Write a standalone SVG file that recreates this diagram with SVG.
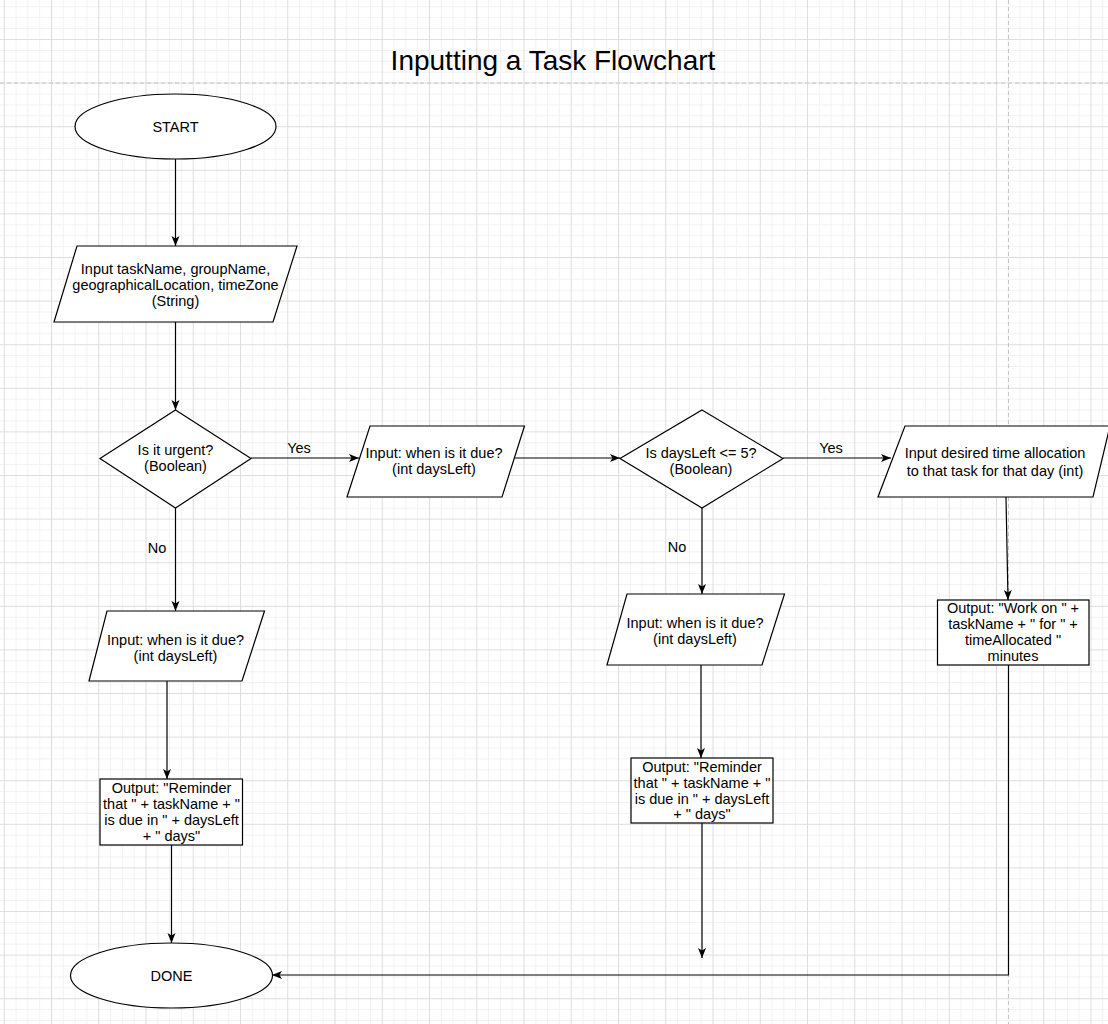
<svg xmlns="http://www.w3.org/2000/svg" width="1108" height="1024" viewBox="0 0 1108 1024">
<defs>
<pattern id="grid" patternUnits="userSpaceOnUse" x="3.75" y="-4.6" width="47.25" height="43.6">
<rect x="0" y="0" width="47.25" height="43.6" fill="#ffffff"/>
<rect x="11.8" y="0" width="0.8" height="43.6" fill="#f0f0f0"/>
<rect x="23.6" y="0" width="0.8" height="43.6" fill="#f0f0f0"/>
<rect x="35.4" y="0" width="0.8" height="43.6" fill="#f0f0f0"/>
<rect x="0" y="10.9" width="47.25" height="0.8" fill="#f0f0f0"/>
<rect x="0" y="21.8" width="47.25" height="0.8" fill="#f0f0f0"/>
<rect x="0" y="32.7" width="47.25" height="0.8" fill="#f0f0f0"/>
<rect x="0" y="0" width="1" height="43.6" fill="#dedede"/>
<rect x="0" y="0" width="47.25" height="1" fill="#dedede"/>
</pattern>
<marker id="arr" markerUnits="userSpaceOnUse" markerWidth="12" markerHeight="10" refX="10" refY="4" orient="auto" overflow="visible">
<path d="M0,0 L10,4 L0,8 L2.5,4 Z" fill="#000"/>
</marker>
<style>
.shape{fill:#fff;stroke:#000;stroke-width:1.2}
.t{font-family:"Liberation Sans",Arial,sans-serif;font-size:14.5px;fill:#000;text-anchor:middle}
.title{font-family:"Liberation Sans",Arial,sans-serif;font-size:28px;fill:#000;text-anchor:middle}
.c{fill:none;stroke:#000;stroke-width:1.2}
.page{stroke:#c4c4c4;stroke-width:1;stroke-dasharray:4 3;fill:none}
</style>
</defs>
<rect width="1108" height="1024" fill="url(#grid)"/>
<line class="page" x1="0" y1="83" x2="1108" y2="83"/>
<line class="page" x1="1008.5" y1="0" x2="1008.5" y2="1024"/>

<text class="title" x="553" y="70">Inputting a Task Flowchart</text>

<g id="connectors">
<line class="c" x1="175.5" y1="159" x2="175.5" y2="246" marker-end="url(#arr)"/>
<line class="c" x1="175.5" y1="322" x2="175.5" y2="410" marker-end="url(#arr)"/>
<line class="c" x1="251" y1="458" x2="359" y2="458" marker-end="url(#arr)"/>
<line class="c" x1="514" y1="458" x2="620" y2="458" marker-end="url(#arr)"/>
<line class="c" x1="783" y1="458" x2="891" y2="458" marker-end="url(#arr)"/>
<line class="c" x1="1006" y1="497" x2="1008" y2="600" marker-end="url(#arr)"/>
<line class="c" x1="175.5" y1="508" x2="175.5" y2="611" marker-end="url(#arr)"/>
<line class="c" x1="167" y1="681" x2="167" y2="779" marker-end="url(#arr)"/>
<line class="c" x1="171.5" y1="845" x2="171.5" y2="943" marker-end="url(#arr)"/>
<line class="c" x1="702" y1="508" x2="702" y2="594" marker-end="url(#arr)"/>
<line class="c" x1="701" y1="665" x2="701" y2="758" marker-end="url(#arr)"/>
<line class="c" x1="702" y1="823" x2="702" y2="958" marker-end="url(#arr)"/>
<polyline class="c" points="1008.5,665 1008.5,975 272,975" marker-end="url(#arr)"/>
<text class="t" x="299" y="453">Yes</text>
<text class="t" x="831" y="453">Yes</text>
<text class="t" x="157" y="553">No</text>
<text class="t" x="677" y="552">No</text>
</g>

<g id="start">
<ellipse class="shape" cx="175.5" cy="126.5" rx="100.5" ry="32.5"/>
<text class="t" x="175.5" y="131.5">START</text>
</g>

<g id="input-task">
<polygon class="shape" points="77,246 297,246 273,322 54,322"/>
<text class="t" x="175.5" y="274">Input taskName, groupName,</text>
<text class="t" x="175.5" y="290">geographicalLocation, timeZone</text>
<text class="t" x="175.5" y="306">(String)</text>
</g>

<g id="urgent">
<polygon class="shape" points="175.5,410 251,458.5 175.5,508 100,458.5"/>
<text class="t" x="175.5" y="455">Is it urgent?</text>
<text class="t" x="175.5" y="471">(Boolean)</text>
</g>

<g id="due-urgent">
<polygon class="shape" points="370,426 524.5,426 502,497 347,497"/>
<text class="t" x="434" y="458">Input: when is it due?</text>
<text class="t" x="434" y="474">(int daysLeft)</text>
</g>

<g id="daysleft-check">
<polygon class="shape" points="702,410 783,458.5 702,508 620,458.5"/>
<text class="t" x="701" y="458">Is daysLeft &lt;= 5?</text>
<text class="t" x="701" y="474">(Boolean)</text>
</g>

<g id="time-alloc">
<polygon class="shape" points="905,426 1110,426 1093,497 878,497"/>
<text class="t" x="995" y="458">Input desired time allocation</text>
<text class="t" x="995" y="476">to that task for that day (int)</text>
</g>

<g id="work-output">
<rect class="shape" x="937.5" y="600" width="151.5" height="65"/>
<text class="t" x="1013" y="613">Output: "Work on " +</text>
<text class="t" x="1013" y="629">taskName + " for " +</text>
<text class="t" x="1013" y="645">timeAllocated "</text>
<text class="t" x="1013" y="661">minutes</text>
</g>

<g id="due-not-urgent">
<polygon class="shape" points="107,611 264.5,611 242,681 89,681"/>
<text class="t" x="175.5" y="645">Input: when is it due?</text>
<text class="t" x="175.5" y="661">(int daysLeft)</text>
</g>

<g id="reminder-1">
<rect class="shape" x="100" y="779" width="142.5" height="66"/>
<text class="t" x="171.5" y="793">Output: "Reminder</text>
<text class="t" x="171.5" y="809">that " + taskName + "</text>
<text class="t" x="171.5" y="825">is due in " + daysLeft</text>
<text class="t" x="171.5" y="841">+ " days"</text>
</g>

<g id="due-2">
<polygon class="shape" points="627,594 784.5,594 762,665 607,665"/>
<text class="t" x="695" y="628">Input: when is it due?</text>
<text class="t" x="695" y="644">(int daysLeft)</text>
</g>

<g id="reminder-2">
<rect class="shape" x="631" y="758" width="142" height="65"/>
<text class="t" x="702" y="771.5">Output: "Reminder</text>
<text class="t" x="702" y="787.5">that " + taskName + "</text>
<text class="t" x="702" y="803.5">is due in " + daysLeft</text>
<text class="t" x="702" y="819">+ " days"</text>
</g>

<g id="done">
<ellipse class="shape" cx="171.5" cy="975.5" rx="101" ry="32.5"/>
<text class="t" x="171.5" y="980.5">DONE</text>
</g>
</svg>
